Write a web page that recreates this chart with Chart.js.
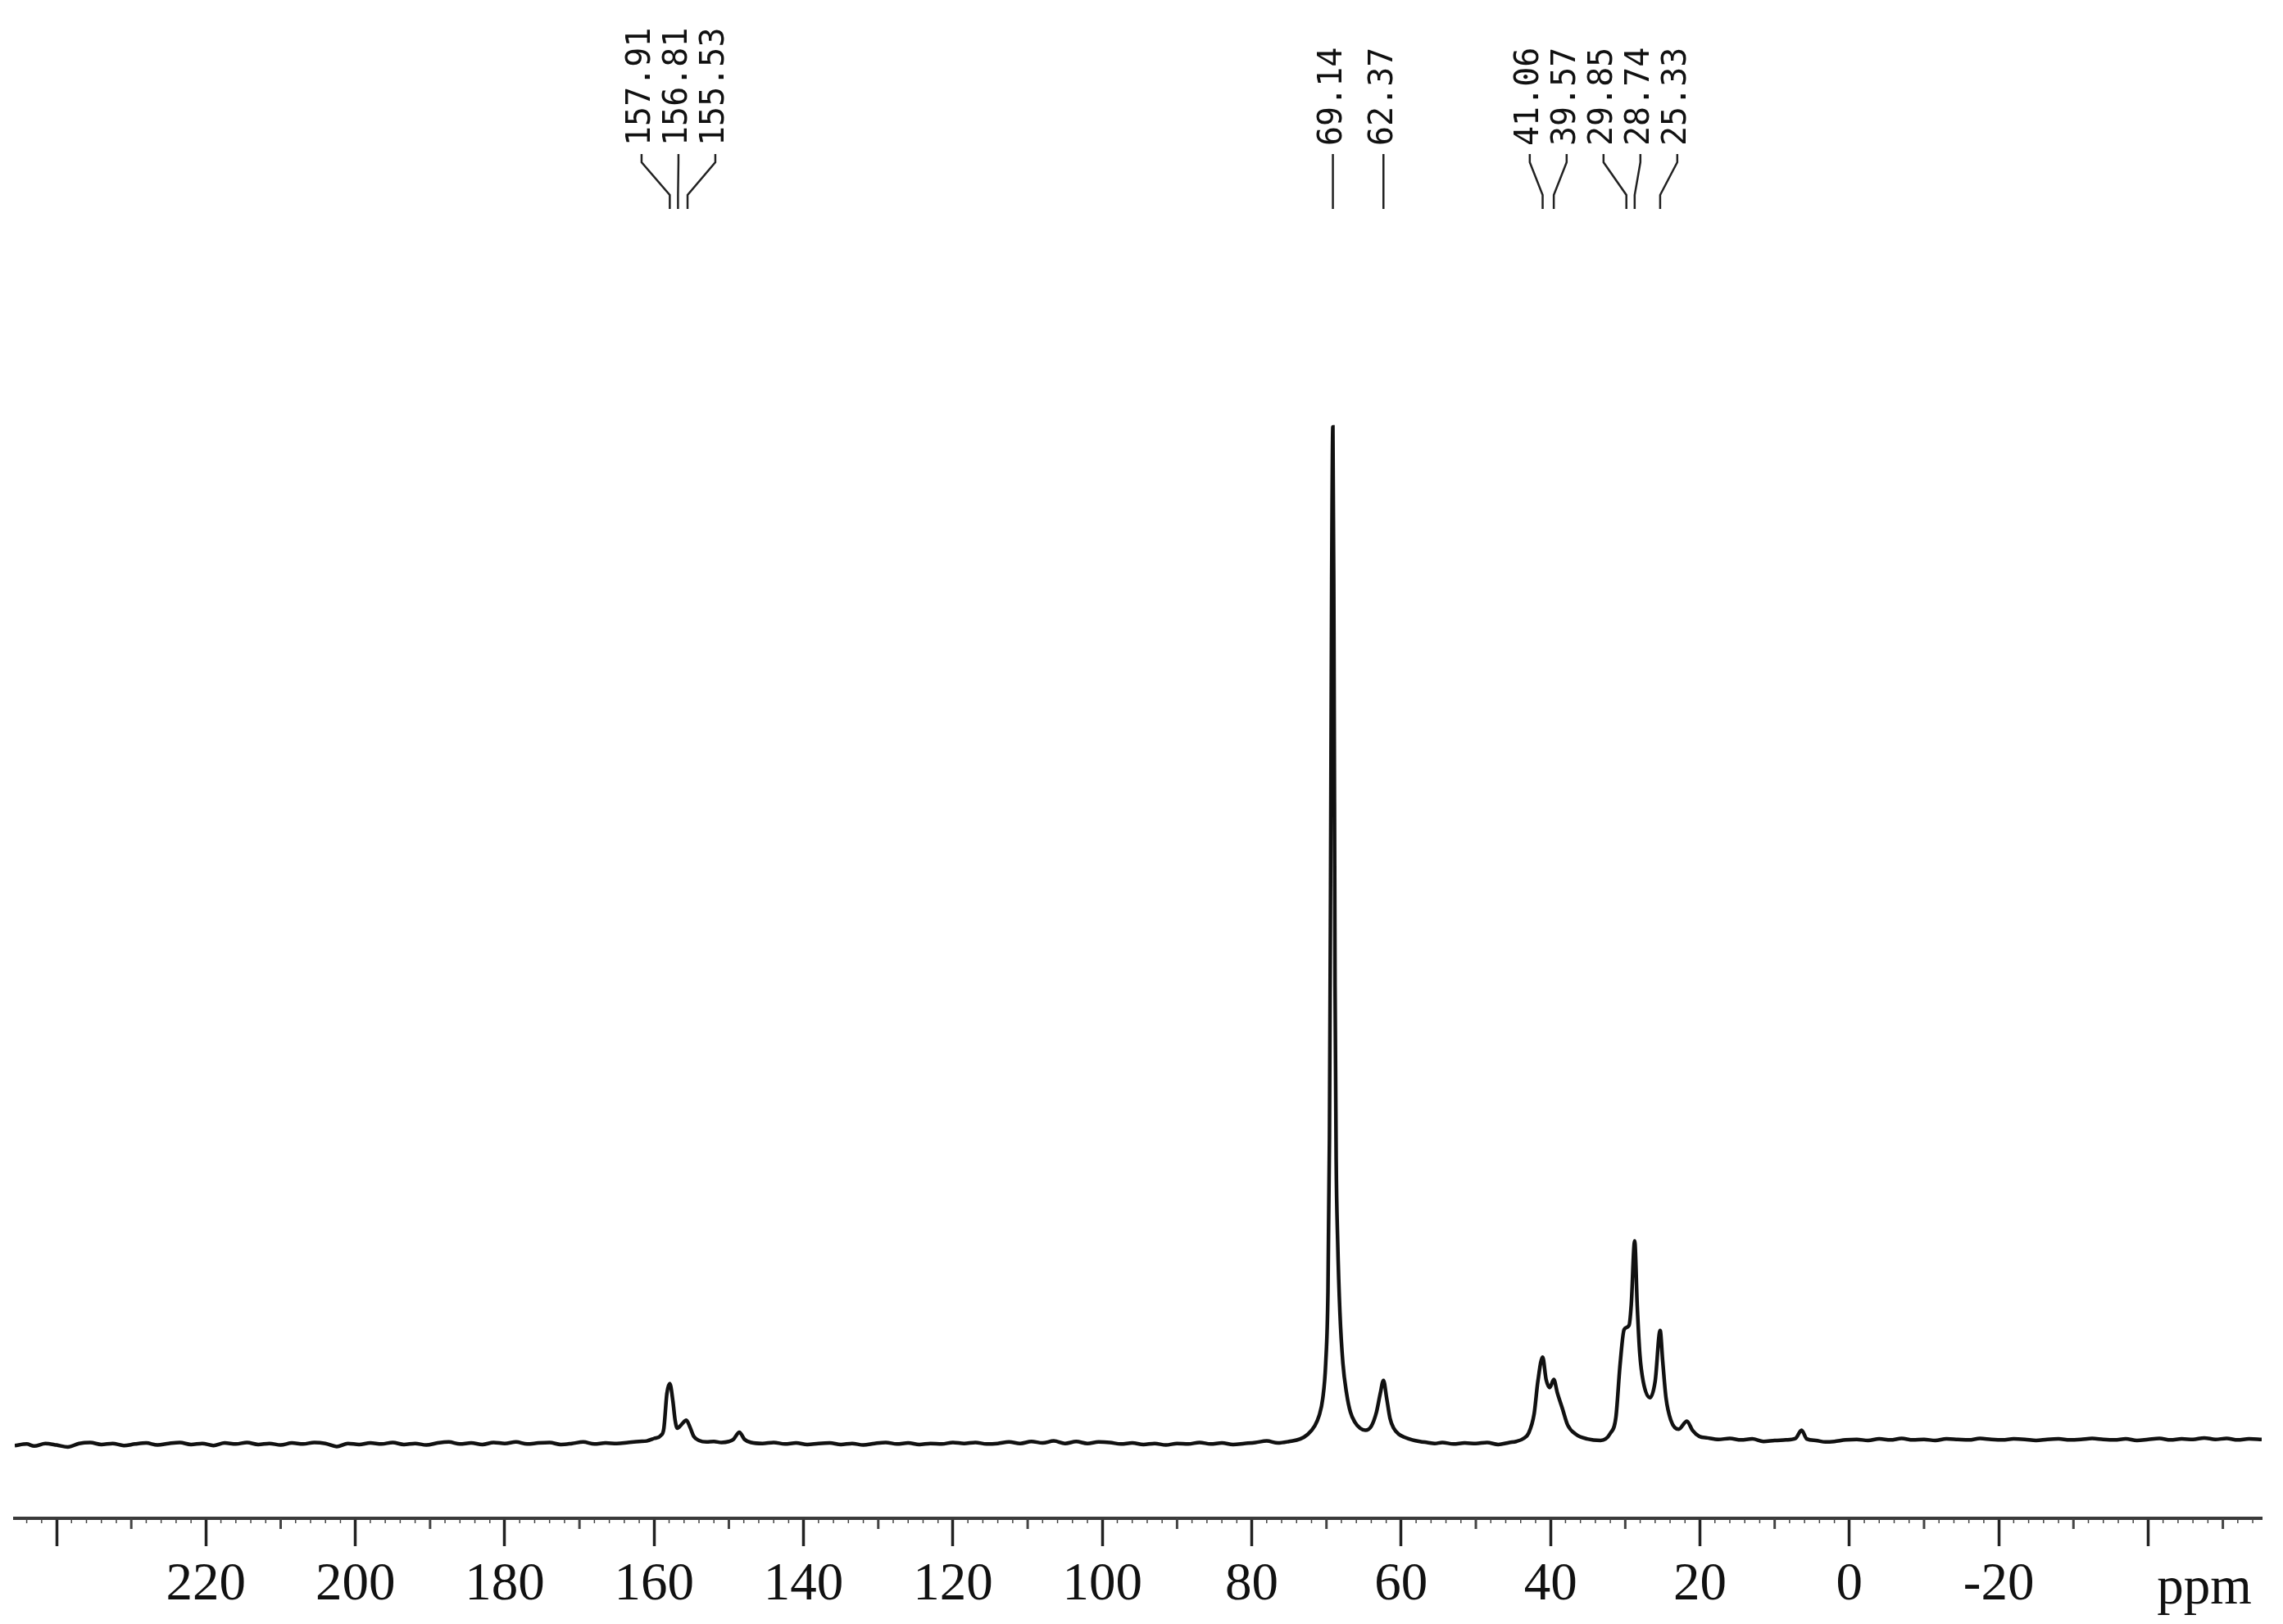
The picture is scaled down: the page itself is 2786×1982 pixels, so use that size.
<!DOCTYPE html>
<html>
<head>
<meta charset="utf-8">
<title>13C NMR spectrum</title>
<script src="https://cdn.jsdelivr.net/npm/chart.js@4.4.1/dist/chart.umd.min.js"></script>
<style>
  html, body { margin: 0; padding: 0; background: #fff; }
</style>
</head>
<body>
<canvas id="nmr" width="2786" height="1982"></canvas>
<script>
// ── spectrum trace: chemical shift (ppm) and intensity (main peak = 100) ──
const shiftPpm = [
  245.6, 244, 243, 241.5, 240, 238.5, 237, 235.5, 234, 232.5,
  231, 229.5, 228, 226.5, 225, 223.5, 222, 220.5, 219, 217.5,
  216, 214.5, 213, 211.5, 210, 208.5, 207, 205.5, 204, 202.5,
  201, 199.5, 198, 196.5, 195, 193.5, 192, 190.5, 189, 187.5,
  186, 184.5, 183, 181.5, 180, 178.5, 177, 175.5, 174, 172.5,
  171, 169.5, 168, 166.5, 165, 163.5, 162, 161, 160, 159.1,
  158.7, 158.3, 157.91, 157.5, 157.2, 156.9, 156.3, 155.7, 155.2, 154.7,
  154, 153, 152, 151, 150, 149.4, 148.6, 147.9, 147, 145.5,
  144, 142.5, 141, 139.5, 138, 136.5, 135, 133.5, 132, 130.5,
  129, 127.5, 126, 124.5, 123, 121.5, 120, 118.5, 117, 115.5,
  114, 112.5, 111, 109.5, 108, 106.5, 105, 103.5, 102, 100.5,
  99, 97.5, 96, 94.5, 93, 91.5, 90, 88.5, 87, 85.5,
  84, 82.5, 81, 79.5, 78, 76.5, 75, 73.5, 72.5, 71.6,
  71, 70.5, 70.1, 69.8, 69.6, 69.45, 69.3, 69.14, 69, 68.85,
  68.7, 68.5, 68.2, 67.8, 67.3, 66.8, 66.2, 65.5, 64.8, 64,
  63.3, 62.8, 62.37, 61.95, 61.5, 61, 60.3, 59.5, 58.5, 57.5,
  56.5, 55.5, 54.5, 53, 51.5, 50, 48.5, 47, 45.5, 44.6,
  43.6, 42.95, 42.2, 41.7, 41.06, 40.6, 40.1, 39.57, 39.1, 38.4,
  37.7, 36.6, 35.1, 33.3, 32, 31.25, 30.7, 30.15, 29.5, 29.2,
  28.74, 28.4, 28.05, 27.6, 26.7, 26, 25.33, 25, 24.55, 23.9,
  22.85, 21.75, 21, 20.1, 19, 17.5, 16, 14.5, 13, 11.5,
  10, 8.5, 7.2, 6.4, 5.7, 4.5, 3.2, 2, 0.5, -1,
  -2.5, -4, -5.5, -7, -8.5, -10, -11.5, -13, -14.5, -16,
  -17.5, -19, -20.5, -22, -23.5, -25, -26.5, -28, -29.5, -31,
  -32.5, -34, -35.5, -37, -38.5, -40, -41.5, -43, -44.5, -46,
  -47.5, -49, -50.5, -52, -53.5, -55.2
];

const intensity = [
  -0.1, 0.05, -0.15, 0.1, -0.05, -0.25, 0.1, 0.2, 0.0, 0.1,
  -0.1, 0.05, 0.15, -0.05, 0.1, 0.2, 0.0, 0.1, -0.1, 0.15,
  0.05, 0.2, 0.0, 0.1, -0.05, 0.15, 0.05, 0.2, 0.1, -0.2,
  0.1, 0.0, 0.15, 0.05, 0.2, 0.0, 0.1, -0.05, 0.15, 0.25,
  0.05, 0.15, 0.0, 0.2, 0.1, 0.25, 0.05, 0.15, 0.2, 0.0,
  0.1, 0.25, 0.05, 0.15, 0.1, 0.2, 0.3, 0.35, 0.6, 0.9,
  1.6, 5.0, 6.0, 4.3, 2.4, 1.6, 2.0, 2.4, 1.7, 0.8,
  0.4, 0.25, 0.3, 0.2, 0.3, 0.5, 1.2, 0.5, 0.2, 0.1,
  0.2, 0.05, 0.15, 0.0, 0.1, 0.15, 0.0, 0.1, -0.05, 0.1,
  0.2, 0.05, 0.15, 0.0, 0.1, 0.05, 0.2, 0.1, 0.2, 0.05,
  0.1, 0.25, 0.1, 0.3, 0.15, 0.35, 0.1, 0.3, 0.1, 0.25,
  0.2, 0.05, 0.15, 0.0, 0.1, -0.05, 0.1, 0.05, 0.2, 0.05,
  0.15, 0.0, 0.1, 0.2, 0.35, 0.15, 0.3, 0.55, 1.0, 1.8,
  2.8, 4.5, 8, 15, 30, 55, 85, 100, 80, 45,
  28, 20, 13, 8, 5, 3.2, 2.2, 1.6, 1.4, 1.8,
  3.2, 5.0, 6.3, 4.6, 2.6, 1.6, 1.0, 0.7, 0.45, 0.3,
  0.2, 0.1, 0.2, 0.05, 0.15, 0.1, 0.2, 0.0, 0.2, 0.3,
  0.6, 1.1, 3.0, 6.2, 8.6, 6.4, 5.6, 6.4, 5.1, 3.5,
  1.9, 1.0, 0.55, 0.4, 1.1, 2.7, 7.8, 11.3, 11.7, 13.7,
  20.0, 13.7, 8.9, 6.2, 4.6, 6.2, 11.2, 8.3, 4.6, 2.4,
  1.5, 2.3, 1.4, 0.8, 0.65, 0.5, 0.6, 0.45, 0.55, 0.3,
  0.4, 0.45, 0.6, 1.4, 0.55, 0.4, 0.25, 0.3, 0.45, 0.5,
  0.4, 0.55, 0.45, 0.6, 0.45, 0.5, 0.4, 0.55, 0.5, 0.45,
  0.6, 0.5, 0.45, 0.55, 0.5, 0.4, 0.5, 0.55, 0.45, 0.5,
  0.6, 0.5, 0.45, 0.55, 0.4, 0.5, 0.6, 0.45, 0.55, 0.5,
  0.65, 0.5, 0.6, 0.45, 0.55, 0.5
];

// ── peak picking list shown on top ──
const peakShifts = [157.91, 156.81, 155.53, 69.14, 62.37, 41.06, 39.57, 29.85, 28.74, 25.33];
const peakText   = ["157.91", "156.81", "155.53", "69.14", "62.37", "41.06", "39.57", "29.85", "28.74", "25.33"];

// ── x axis ticks ──
const majorTicks = [240, 220, 200, 180, 160, 140, 120, 100, 80, 60, 40, 20, 0, -20, -40];
const tickText   = ["", "220", "200", "180", "160", "140", "120", "100", "80", "60", "40", "20", "0", "-20", ""];
const axisUnit   = "ppm";

// spread overlapping peak labels, like the spectrometer printout does
function spreadLabels(px, gap) {
    let groups = px.map((p, i) => ({ ids: [i], center: p }));
    let merged = true;
    while (merged) {
        merged = false;
        for (let g = 0; g < groups.length - 1; g++) {
            const a = groups[g], b = groups[g + 1];
            const aEnd   = a.center + (a.ids.length - 1) / 2 * gap;
            const bStart = b.center - (b.ids.length - 1) / 2 * gap;
            if (bStart - aEnd < gap) {
                const ids = a.ids.concat(b.ids);
                const center = ids.reduce((s, i) => s + px[i], 0) / ids.length;
                groups.splice(g, 2, { ids, center });
                merged = true;
                break;
            }
        }
    }
    const pos = [];
    groups.forEach(g => g.ids.forEach((id, k) => {
        pos[id] = g.center + (k - (g.ids.length - 1) / 2) * gap;
    }));
    return pos;
}

const nmrDecor = {
    id: "nmrDecor",
    afterDraw(chart) {
        const ctx = chart.ctx;
        const xs  = chart.scales.x;
        const y0  = chart.chartArea.bottom;
        ctx.save();

        // fine ticks every 2 ppm and medium ticks every 10 ppm
        ctx.strokeStyle = "#444";
        for (let v = -54; v <= 244; v += 2) {
            if (v % 20 === 0) continue;
            const x = xs.getPixelForValue(v);
            const mid = v % 10 === 0;
            ctx.lineWidth = mid ? 3 : 1.5;
            ctx.beginPath();
            ctx.moveTo(x, y0);
            ctx.lineTo(x, y0 + (mid ? 13 : 6));
            ctx.stroke();
        }

        // unit
        ctx.fillStyle = "#111";
        ctx.font = '65px "Liberation Serif", serif';
        ctx.textAlign = "center";
        ctx.textBaseline = "alphabetic";
        ctx.fillText(axisUnit, xs.right - 70, y0 + 104);

        // peak labels
        const px  = peakShifts.map(v => xs.getPixelForValue(v));
        const pos = spreadLabels(px, 45);
        ctx.strokeStyle = "#222";
        ctx.lineWidth = 2.5;
        ctx.font = '40px "DejaVu Sans Mono", monospace';
        ctx.textAlign = "left";
        ctx.textBaseline = "middle";
        peakText.forEach((t, i) => {
            ctx.save();
            ctx.translate(pos[i], 178);
            ctx.rotate(-Math.PI / 2);
            ctx.fillText(t, 0, 0);
            ctx.restore();
            ctx.beginPath();
            ctx.moveTo(pos[i], 188);
            ctx.lineTo(pos[i], 198);
            ctx.lineTo(px[i], 238);
            ctx.lineTo(px[i], 255);
            ctx.stroke();
        });
        ctx.restore();
    }
};

new Chart(document.getElementById("nmr"), {
    type: "line",
    data: {
        datasets: [{
            data: shiftPpm.map((x, i) => ({ x, y: intensity[i] })),
            borderColor: "#111",
            borderWidth: 4.5,
            pointRadius: 0,
            cubicInterpolationMode: "monotone",
            fill: false
        }]
    },
    options: {
        responsive: false,
        animation: false,
        devicePixelRatio: 1,
        layout: { padding: { left: 18, right: 26, top: 270, bottom: 0 } },
        plugins: { legend: { display: false }, tooltip: { enabled: false } },
        scales: {
            x: {
                type: "linear",
                reverse: true,
                min: -55.2,
                max: 245.6,
                afterBuildTicks: s => { s.ticks = majorTicks.map(v => ({ value: v })); },
                afterFit: s => { s.height = 129; },
                grid: { drawOnChartArea: false, drawTicks: true, tickLength: 34, tickWidth: 3.5, tickColor: "#222" },
                border: { display: true, color: "#3a3a3a", width: 4 },
                ticks: {
                    autoSkip: false,
                    maxRotation: 0,
                    padding: 9,
                    color: "#111",
                    font: { family: '"Liberation Serif", serif', size: 65 },
                    callback: v => tickText[majorTicks.indexOf(v)]
                }
            },
            y: { display: false, min: -7.25, max: 120.2 }
        }
    },
    plugins: [nmrDecor]
});
</script>
</body>
</html>
